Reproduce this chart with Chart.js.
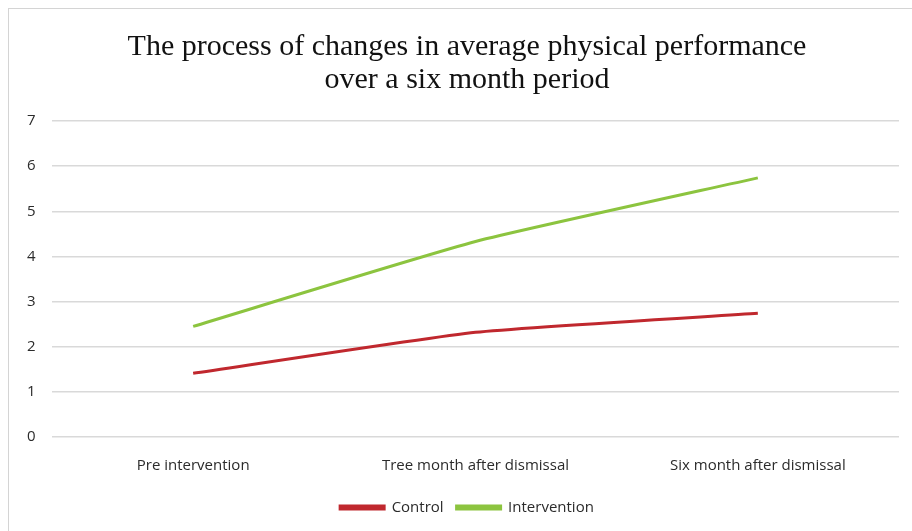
<!DOCTYPE html>
<html>
<head>
<meta charset="utf-8">
<script src="https://cdn.jsdelivr.net/npm/chart.js@4"></script>
<style>
    body { margin: 0; background: #fff; }
    #frame { position: absolute; left: 8px; top: 8px; width: 920px; height: 540px; border: 1px solid #d4d4d4; }
    #wrap { position: absolute; left: 0; top: 0; width: 912px; height: 531px; }
</style>
</head>
<body>
<div id="frame"></div>
<div id="wrap"><canvas id="chart"></canvas></div>
<script>
// Datos
const categorias = ['Pre intervention', 'Tree month after dismissal', 'Six month after dismissal'];
const control = [1.41, 2.32, 2.74];
const intervencion = [2.45, 4.33, 5.74];
const tituloLineas = ['The process of changes in average physical performance', 'over a six month period'];

const rojo = '#c0282e';
const verde = '#8cc43f';
const textoGris = '#2b2b2b';
const fuenteEjes = '"Open Sans", sans-serif';

const ctx = document.getElementById('chart').getContext('2d');
new Chart(ctx, {
    type: 'line',
    data: {
        labels: categorias,
        datasets: [{
            label: 'Control',
            data: control,
            borderColor: rojo,
            backgroundColor: rojo,
            borderWidth: 3,
            pointRadius: 0,
            tension: 0.15
        }, {
            label: 'Intervention',
            data: intervencion,
            borderColor: verde,
            backgroundColor: verde,
            borderWidth: 3,
            pointRadius: 0,
            tension: 0.15
        }]
    },
    options: {
        responsive: true,
        maintainAspectRatio: false,
        animation: false,
        layout: { padding: { left: 35, right: 13, top: 0, bottom: 6 } },
        plugins: {
            title: {
                display: true,
                text: tituloLineas,
                color: '#111',
                font: { family: '"Liberation Serif", "Times New Roman", serif', size: 30, weight: 'normal', lineHeight: 1.1 },
                padding: { top: 31, bottom: 24 }
            },
            legend: {
                position: 'bottom',
                labels: {
                    boxWidth: 44,
                    boxHeight: 3,
                    padding: 13,
                    color: textoGris,
                    font: { family: fuenteEjes, size: 15 }
                }
            },
            tooltip: { enabled: false }
        },
        scales: {
            x: {
                offset: true,
                grid: { display: false },
                border: { display: false },
                ticks: {
                    color: textoGris,
                    padding: 12,
                    font: { family: fuenteEjes, size: 15 }
                }
            },
            y: {
                min: 0,
                max: 7,
                // etiquetas en modo espejo con separación negativa para que queden a la izquierda
                afterFit: (eje) => { eje.width = 17; },
                ticks: {
                    stepSize: 1,
                    mirror: true,
                    padding: -25,
                    color: textoGris,
                    font: { family: fuenteEjes, size: 15 }
                },
                grid: { color: '#d9d9d9', lineWidth: 1.5, drawTicks: false },
                border: { display: false }
            }
        }
    }
});
</script>
</body>
</html>
